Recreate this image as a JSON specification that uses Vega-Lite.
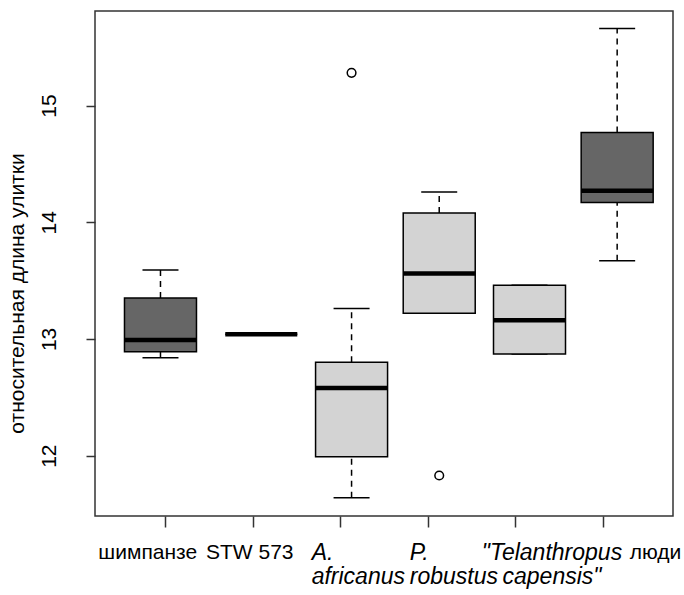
{
  "$schema": "https://vega.github.io/schema/vega-lite/v6.json",
  "width": 578,
  "height": 505,
  "autosize": {"type": "none"},
  "padding": {"left": 95, "top": 11, "right": 11, "bottom": 79},
  "background": "white",
  "config": {
    "view": {"stroke": "#333333", "strokeWidth": 1.5},
    "font": "Liberation Sans"
  },
  "datasets": {
    "boxes": [
      {"pos": 0.95, "group": "шимпанзе", "type": "dark", "lower": 12.84, "q1": 12.89, "median": 12.99, "q3": 13.35, "upper": 13.59},
      {"pos": 2.1, "group": "STW 573", "type": "light", "lower": 13.04, "q1": 13.04, "median": 13.04, "q3": 13.04, "upper": 13.04},
      {"pos": 3.13, "group": "A. africanus", "type": "light", "lower": 11.64, "q1": 11.99, "median": 12.58, "q3": 12.8, "upper": 13.26},
      {"pos": 4.13, "group": "P. robustus", "type": "light", "lower": 13.22, "q1": 13.22, "median": 13.56, "q3": 14.08, "upper": 14.26},
      {"pos": 5.16, "group": "Telanthropus capensis", "type": "light", "lower": 12.87, "q1": 12.87, "median": 13.16, "q3": 13.46, "upper": 13.46},
      {"pos": 6.16, "group": "люди", "type": "dark", "lower": 13.67, "q1": 14.17, "median": 14.27, "q3": 14.77, "upper": 15.66}
    ],
    "outliers": [
      {"pos": 3.13, "value": 15.28},
      {"pos": 4.13, "value": 11.83}
    ]
  },
  "encoding": {
    "x": {
      "field": "pos",
      "type": "quantitative",
      "scale": {"domain": [0.26, 6.74], "nice": false, "zero": false},
      "axis": {
        "title": null,
        "values": [1, 2, 3, 4, 5, 6],
        "domain": false,
        "grid": false,
        "tickSize": 11,
        "tickColor": "#333333",
        "tickWidth": 1.5,
        "labelFontSize": {"condition": {"test": "datum.value >= 3 && datum.value <= 5", "value": 23}, "value": 21},
        "labelColor": "black",
        "labelPadding": 14,
        "labelLineHeight": 24,
        "labelOverlap": false,
        "labelFlush": false,
        "labelBaseline": "top",
        "labelAlign": {"condition": {"test": "datum.value == 5", "value": "center"}, "value": "left"},
        "labelOffset": {
          "condition": [
            {"test": "datum.value == 1", "value": -67},
            {"test": "datum.value == 2", "value": -47},
            {"test": "datum.value == 3", "value": -29},
            {"test": "datum.value == 4", "value": -18.5},
            {"test": "datum.value == 5", "value": 36}
          ],
          "value": 26
        },
        "labelFontStyle": {"condition": {"test": "datum.value >= 3 && datum.value <= 5", "value": "italic"}, "value": "normal"},
        "labelExpr": "datum.value == 1 ? 'шимпанзе' : datum.value == 2 ? 'STW 573' : datum.value == 3 ? ['A.', 'africanus'] : datum.value == 4 ? ['P.', 'robustus'] : datum.value == 5 ? ['\"Telanthropus', 'capensis\"'] : 'люди'"
      }
    }
  },
  "layer": [
    {
      "data": {"name": "boxes"},
      "mark": {"type": "rule", "color": "black", "strokeWidth": 1.5, "strokeDash": [6, 5]},
      "encoding": {
        "y": {
          "field": "lower",
          "type": "quantitative",
          "title": "относительная длина улитки",
          "scale": {"domain": [11.483, 15.81], "nice": false, "zero": false},
          "axis": {
            "values": [12, 13, 14, 15],
            "format": "d",
            "domain": false,
            "grid": false,
            "tickSize": 9,
            "tickColor": "#333333",
            "tickWidth": 1.5,
            "labelFontSize": 21,
            "labelColor": "black",
            "labelAngle": 270,
            "labelAlign": "center",
            "labelBaseline": "alphabetic",
            "labelPadding": 31,
            "titleFontSize": 21,
            "titleFontWeight": "normal",
            "titleColor": "black",
            "titleAngle": 270,
            "titleAlign": "center",
            "titleBaseline": "alphabetic",
            "titleX": -72,
            "titleY": 282
          }
        },
        "y2": {"field": "q1"}
      }
    },
    {
      "data": {"name": "boxes"},
      "mark": {"type": "rule", "color": "black", "strokeWidth": 1.5, "strokeDash": [6, 5]},
      "encoding": {
        "y": {"field": "q3", "type": "quantitative", "title": "относительная длина улитки"},
        "y2": {"field": "upper"}
      }
    },
    {
      "data": {"name": "boxes"},
      "mark": {"type": "tick", "orient": "horizontal", "color": "black", "size": 36, "thickness": 1.5, "opacity": 1},
      "encoding": {
        "y": {"field": "lower", "type": "quantitative", "title": "относительная длина улитки"}
      }
    },
    {
      "data": {"name": "boxes"},
      "mark": {"type": "tick", "orient": "horizontal", "color": "black", "size": 36, "thickness": 1.5, "opacity": 1},
      "encoding": {
        "y": {"field": "upper", "type": "quantitative", "title": "относительная длина улитки"}
      }
    },
    {
      "data": {"name": "boxes"},
      "mark": {"type": "bar", "width": 72, "stroke": "black", "strokeWidth": 1.5, "opacity": 1},
      "encoding": {
        "y": {"field": "q1", "type": "quantitative", "title": "относительная длина улитки"},
        "y2": {"field": "q3"},
        "fill": {
          "field": "type",
          "type": "nominal",
          "scale": {"domain": ["dark", "light"], "range": ["#666666", "#d3d3d3"]},
          "legend": null
        }
      }
    },
    {
      "data": {"name": "boxes"},
      "mark": {"type": "tick", "orient": "horizontal", "color": "black", "size": 72, "thickness": 4.5, "opacity": 1},
      "encoding": {
        "y": {"field": "median", "type": "quantitative", "title": "относительная длина улитки"}
      }
    },
    {
      "data": {"name": "outliers"},
      "mark": {"type": "point", "shape": "circle", "filled": false, "stroke": "black", "strokeWidth": 1.5, "size": 75, "opacity": 1},
      "encoding": {
        "y": {"field": "value", "type": "quantitative", "title": "относительная длина улитки"}
      }
    }
  ]
}
